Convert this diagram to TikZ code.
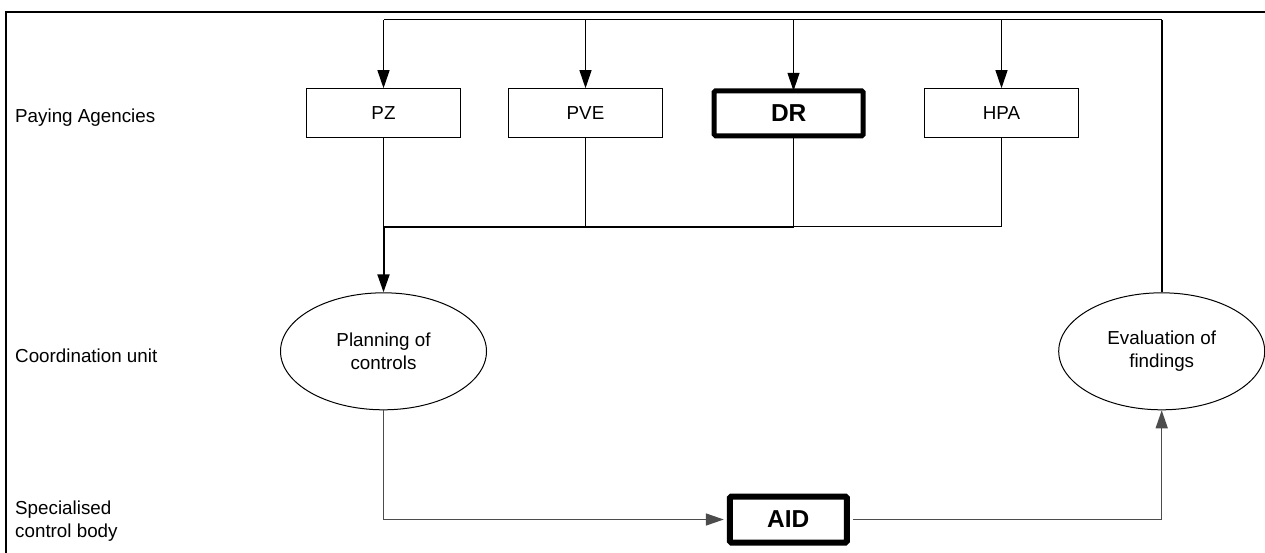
\documentclass[tikz,border=0pt]{standalone}
\usepackage{fontspec}
\setmainfont{Liberation Sans}
\usetikzlibrary{arrows.meta,shapes.geometric}
\tikzset{
  txt/.style={font=\fontsize{18.8}{22.5}\selectfont, inner sep=0pt},
  lab/.style={txt, anchor=west, align=left},
  agency/.style={txt, draw, line width=1pt, minimum width=154pt, minimum height=49pt},
  keybox/.style={draw, line width=5pt, rounded corners=1.5pt, inner sep=0pt,
    font=\fontsize{24.5}{28}\selectfont\bfseries},
  oval/.style={txt, draw, ellipse, line width=1pt, minimum width=206pt, minimum height=117pt, align=center},
  tip/.style={-{Triangle[length=18pt,width=12pt]}},
  wire/.style={line width=1.1pt},
  greywire/.style={line width=1.5pt, draw=black!70},
}
\begin{document}
\begin{tikzpicture}[x=1pt,y=-1pt]
\fill[white] (0,0) rectangle (1265,552);
\useasboundingbox (0,0) rectangle (1265,552);
% frame
\draw[line width=1.6pt] (6,600) -- (6,12) -- (1300,12);

% row labels
\node[lab] (lpa) at (15,118) {Paying Agencies};
\node[lab] (lcu) at (15,356) {Coordination unit};
\node[lab] (lsc) at (15,521) {Specialised\\control body};

% paying agencies
\node[agency] (PZ)  at (383.5,113.2) {PZ};
\node[agency] (PVE) at (585.5,113.2) {PVE};
\node[keybox, minimum width=149pt, minimum height=45pt] (DR) at (788.7,113.3) {DR};
\node[agency] (HPA) at (1001.5,113.2) {HPA};

% coordination unit
\node[oval] (Plan) at (383.5,351.3) {Planning of\\controls};
\node[oval] (Eval) at (1161.7,351.3) {Evaluation of\\findings};

% control body
\node[keybox, minimum width=117pt, minimum height=46pt, line width=6pt] (AID) at (788.3,519.5) {AID};

% helper coordinates
\coordinate (top) at (0,19.5);
\coordinate (bus) at (0,226.5);
\coordinate (drx) at (793.5,0);

% feedback from evaluation to agencies
\draw[line width=1.8pt] (Eval.north) -- (Eval.north |- top);
\draw[wire] (Eval.north |- top) -- (PZ.north |- top);
\draw[wire,tip] (PZ.north |- top) -- (PZ.north);
\draw[wire,tip] (PVE.north |- top) -- (PVE.north);
\draw[wire,tip] (drx |- top) -- ([yshift=-2.5pt]drx |- DR.north);
\draw[wire,tip] (HPA.north |- top) -- (HPA.north);

% agencies to bus
\draw[wire] (PZ.south) -- (PZ.south |- bus);
\draw[wire] (PVE.south) -- (PVE.south |- bus);
\draw[wire] ([yshift=2.5pt]drx |- DR.south) -- (drx |- bus);
\draw[wire] (HPA.south) -- (HPA.south |- bus);
\draw[line width=2pt] (PZ.south |- bus) -- (drx |- bus);
\draw[wire] (drx |- bus) -- (HPA.south |- bus);

% bus to planning
\draw[line width=2pt,tip] (PZ.south |- bus) -- (Plan.north);

% planning -> AID -> evaluation
\draw[greywire,tip] (Plan.south) |- ([xshift=-3pt]AID.west);
\draw[greywire,tip] ([xshift=3pt]AID.east) -| (Eval.south);
\end{tikzpicture}
\end{document}
